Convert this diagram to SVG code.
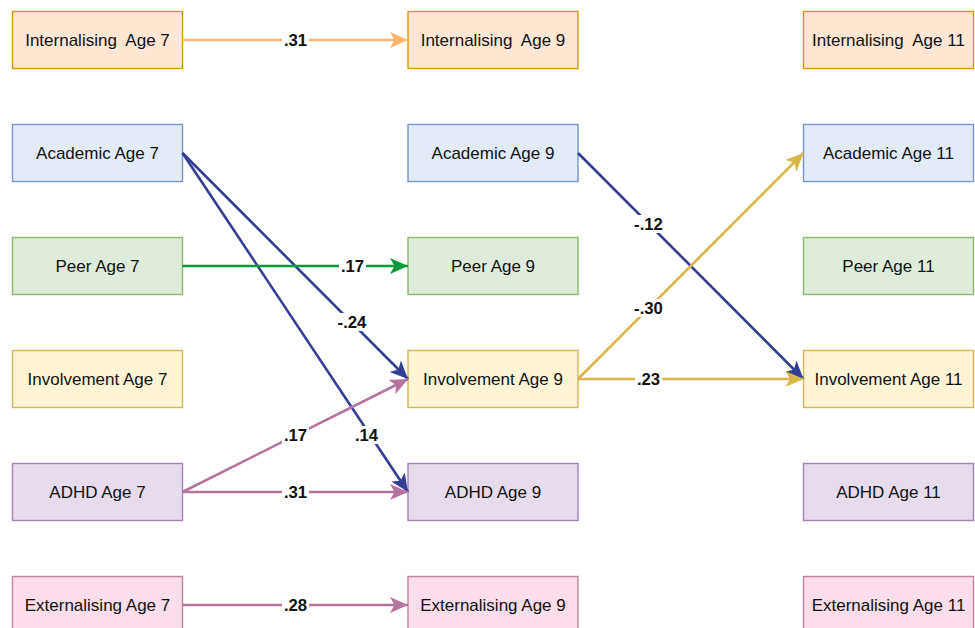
<svg xmlns="http://www.w3.org/2000/svg" width="975" height="628" viewBox="0 0 975 628">
<style>
.box{stroke-width:1.4}
.t{font-family:"Liberation Sans",Arial,sans-serif;font-size:17px;fill:#111;text-anchor:middle;white-space:pre}
.lbl{font-family:"Liberation Sans",Arial,sans-serif;font-size:16.7px;font-weight:bold;fill:#111;text-anchor:middle}
.e{fill:none;stroke-width:2.6}
.int{fill:#FFE7D4;stroke:#D79B00}
.aca{fill:#E3EBF9;stroke:#7895C9}
.peer{fill:#DFEBDB;stroke:#8BBA6C}
.inv{fill:#FFF5D5;stroke:#D6B656}
.adhd{fill:#E6DCEC;stroke:#A684B5}
.ext{fill:#FCDDEB;stroke:#C3849F}
</style>
<defs>
<marker id="mOr" markerUnits="userSpaceOnUse" markerWidth="20" markerHeight="20" refX="18" refY="8" orient="auto" viewBox="0 0 20 16"><path d="M0,0 L18,8 L0,16 L4.5,8 Z" fill="#FFB570"/></marker>
<marker id="mNv" markerUnits="userSpaceOnUse" markerWidth="20" markerHeight="20" refX="18" refY="8" orient="auto" viewBox="0 0 20 16"><path d="M0,0 L18,8 L0,16 L4.5,8 Z" fill="#323E94"/></marker>
<marker id="mGr" markerUnits="userSpaceOnUse" markerWidth="20" markerHeight="20" refX="18" refY="8" orient="auto" viewBox="0 0 20 16"><path d="M0,0 L18,8 L0,16 L4.5,8 Z" fill="#0A9A3A"/></marker>
<marker id="mPk" markerUnits="userSpaceOnUse" markerWidth="20" markerHeight="20" refX="18" refY="8" orient="auto" viewBox="0 0 20 16"><path d="M0,0 L18,8 L0,16 L4.5,8 Z" fill="#B5739D"/></marker>
<marker id="mGd" markerUnits="userSpaceOnUse" markerWidth="20" markerHeight="20" refX="18" refY="8" orient="auto" viewBox="0 0 20 16"><path d="M0,0 L18,8 L0,16 L4.5,8 Z" fill="#D9B74A"/></marker>
</defs>
<rect width="975" height="628" fill="#fff"/>
<g id="int7"><rect class="box int" x="12.5" y="11.5" width="170" height="57"/><text class="t" x="97.5" y="45.5">Internalising  Age 7</text></g>
<g id="int9"><rect class="box int" x="408" y="11.5" width="170" height="57"/><text class="t" x="493" y="45.5">Internalising  Age 9</text></g>
<g id="int11"><rect class="box int" x="803.5" y="11.5" width="170" height="57"/><text class="t" x="888.5" y="45.5">Internalising  Age 11</text></g>
<g id="aca7"><rect class="box aca" x="12.5" y="124.5" width="170" height="57"/><text class="t" x="97.5" y="158.5">Academic Age 7</text></g>
<g id="aca9"><rect class="box aca" x="408" y="124.5" width="170" height="57"/><text class="t" x="493" y="158.5">Academic Age 9</text></g>
<g id="aca11"><rect class="box aca" x="803.5" y="124.5" width="170" height="57"/><text class="t" x="888.5" y="158.5">Academic Age 11</text></g>
<g id="peer7"><rect class="box peer" x="12.5" y="237.5" width="170" height="57"/><text class="t" x="97.5" y="271.5">Peer Age 7</text></g>
<g id="peer9"><rect class="box peer" x="408" y="237.5" width="170" height="57"/><text class="t" x="493" y="271.5">Peer Age 9</text></g>
<g id="peer11"><rect class="box peer" x="803.5" y="237.5" width="170" height="57"/><text class="t" x="888.5" y="271.5">Peer Age 11</text></g>
<g id="inv7"><rect class="box inv" x="12.5" y="350.5" width="170" height="57"/><text class="t" x="97.5" y="384.5">Involvement Age 7</text></g>
<g id="inv9"><rect class="box inv" x="408" y="350.5" width="170" height="57"/><text class="t" x="493" y="384.5">Involvement Age 9</text></g>
<g id="inv11"><rect class="box inv" x="803.5" y="350.5" width="170" height="57"/><text class="t" x="888.5" y="384.5">Involvement Age 11</text></g>
<g id="adhd7"><rect class="box adhd" x="12.5" y="463.5" width="170" height="57"/><text class="t" x="97.5" y="497.5">ADHD Age 7</text></g>
<g id="adhd9"><rect class="box adhd" x="408" y="463.5" width="170" height="57"/><text class="t" x="493" y="497.5">ADHD Age 9</text></g>
<g id="adhd11"><rect class="box adhd" x="803.5" y="463.5" width="170" height="57"/><text class="t" x="888.5" y="497.5">ADHD Age 11</text></g>
<g id="ext7"><rect class="box ext" x="12.5" y="576.5" width="170" height="57"/><text class="t" x="97.5" y="610.5">Externalising Age 7</text></g>
<g id="ext9"><rect class="box ext" x="408" y="576.5" width="170" height="57"/><text class="t" x="493" y="610.5">Externalising Age 9</text></g>
<g id="ext11"><rect class="box ext" x="803.5" y="576.5" width="170" height="57"/><text class="t" x="888.5" y="610.5">Externalising Age 11</text></g>
<g id="connectors">
<line class="e" x1="182.5" y1="40" x2="408" y2="40" stroke="#FFB570" marker-end="url(#mOr)"/>
<line class="e" x1="182.5" y1="153" x2="408" y2="379" stroke="#323E94" marker-end="url(#mNv)"/>
<line class="e" x1="182.5" y1="153" x2="408" y2="492" stroke="#323E94" marker-end="url(#mNv)"/>
<line class="e" x1="182.5" y1="266" x2="408" y2="266" stroke="#0A9A3A" marker-end="url(#mGr)"/>
<line class="e" x1="182.5" y1="492" x2="408" y2="379" stroke="#B5739D" marker-end="url(#mPk)"/>
<line class="e" x1="182.5" y1="492" x2="408" y2="492" stroke="#B5739D" marker-end="url(#mPk)"/>
<line class="e" x1="182.5" y1="605" x2="408" y2="605" stroke="#B5739D" marker-end="url(#mPk)"/>
<line class="e" x1="578" y1="153" x2="803.5" y2="379" stroke="#323E94" marker-end="url(#mNv)"/>
<line class="e" x1="578" y1="379" x2="803.5" y2="153" stroke="#D9B74A" marker-end="url(#mGd)"/>
<line class="e" x1="578" y1="379" x2="803.5" y2="379" stroke="#D9B74A" marker-end="url(#mGd)"/>
<g id="labels">
<rect x="282" y="31" width="27" height="18" fill="#fff"/><text class="lbl" x="295.5" y="45.8">.31</text>
<rect x="336" y="313" width="32" height="18" fill="#fff"/><text class="lbl" x="352" y="327.8">-.24</text>
<rect x="353" y="426" width="27" height="18" fill="#fff"/><text class="lbl" x="366.5" y="440.8">.14</text>
<rect x="339" y="257" width="27" height="18" fill="#fff"/><text class="lbl" x="352.5" y="271.8">.17</text>
<rect x="282" y="426" width="27" height="18" fill="#fff"/><text class="lbl" x="295.5" y="440.8">.17</text>
<rect x="282" y="483" width="27" height="18" fill="#fff"/><text class="lbl" x="295.5" y="497.8">.31</text>
<rect x="282" y="596" width="27" height="18" fill="#fff"/><text class="lbl" x="295.5" y="610.8">.28</text>
<rect x="632" y="215" width="33" height="18" fill="#fff"/><text class="lbl" x="648.5" y="229.8">-.12</text>
<rect x="632" y="299" width="33" height="18" fill="#fff"/><text class="lbl" x="648.5" y="313.8">-.30</text>
<rect x="635" y="370" width="27" height="18" fill="#fff"/><text class="lbl" x="648.5" y="384.8">.23</text>
</g>
</g>
</svg>
